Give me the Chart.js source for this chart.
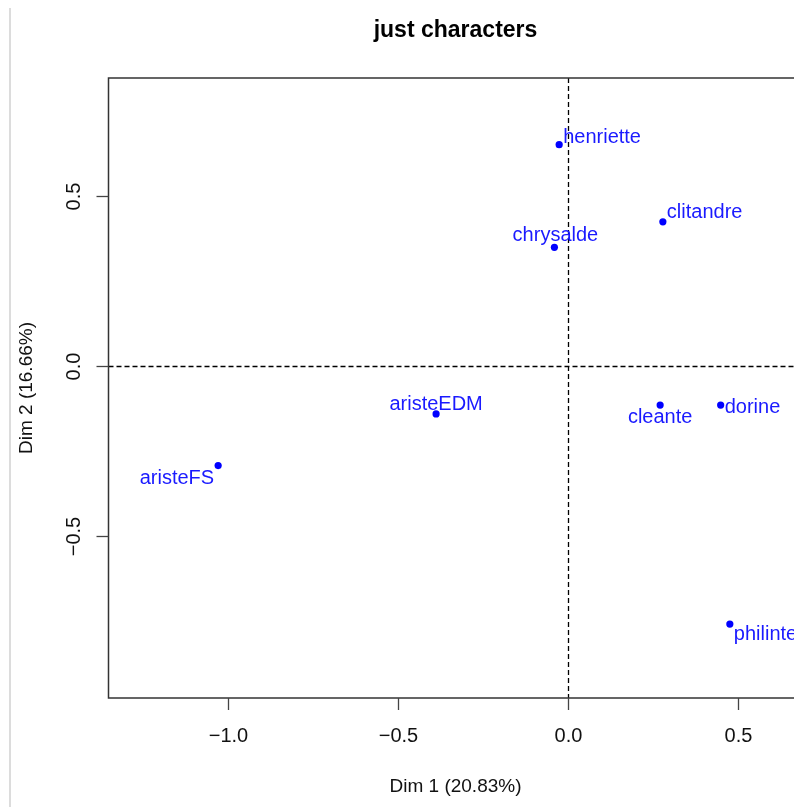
<html>
<head>
<script src="https://cdn.jsdelivr.net/npm/chart.js@4.4.1/dist/chart.umd.min.js"></script>
<style>
    body { margin: 0; background: #fff; }
    #wrap { position: relative; width: 794px; height: 807px; overflow: hidden; background: #fff; }
    #frame { position: absolute; left: 9px; top: 8px; width: 2px; height: 799px; background: #dcdcdc; }
    #holder { position: absolute; left: 0; top: 0; width: 840px; height: 807px; }
</style>
<script type="text/javascript">
    // individual factor map
    var names = ["henriette", "clitandre", "chrysalde", "aristeEDM", "aristeFS", "cleante", "dorine", "philinte"];
    var dim1 = [-0.026, 0.279, -0.040, -0.388, -1.029, 0.271, 0.449, 0.476];
    var dim2 = [0.651, 0.424, 0.349, -0.141, -0.293, -0.115, -0.115, -0.759];
    var xTicks = [-1.0, -0.5, 0.0, 0.5];
    var yTicks = [-0.5, 0.0, 0.5];

    // where each label sits next to its point: [align, dx, dy to baseline]
    var labelPlace = [
        ["left", 4, -2], ["left", 4, -4], ["center", 1, -6], ["center", 0, -4],
        ["right", -4, 18], ["center", 0, 18], ["left", 4, 8], ["left", 4, 16]
    ];

    var FONT = '"Liberation Sans", Arial, sans-serif';

    function fmt(v) {
        var s = v.toFixed(1);
        return v < 0 ? "\u2212" + s.slice(1) : s;
    }

    var rAxes = {
        id: "rAxes",
        beforeDatasetsDraw: function(chart) {
            var ctx = chart.ctx, a = chart.chartArea;
            var xs = chart.scales.x, ys = chart.scales.y;
            ctx.save();
            // dashed zero lines
            ctx.strokeStyle = "#000";
            ctx.lineWidth = 1.3;
            ctx.setLineDash([5, 3]);
            var x0 = Math.round(xs.getPixelForValue(0)) + 0.5;
            var y0 = Math.round(ys.getPixelForValue(0)) + 0.5;
            ctx.beginPath();
            ctx.moveTo(x0, a.top); ctx.lineTo(x0, a.bottom);
            ctx.moveTo(a.left, y0); ctx.lineTo(a.right, y0);
            ctx.stroke();
            ctx.restore();
        },
        afterDatasetsDraw: function(chart) {
            var ctx = chart.ctx, a = chart.chartArea;
            var xs = chart.scales.x, ys = chart.scales.y;
            ctx.save();
            // labels, clipped to the plot like R's text()
            ctx.save();
            ctx.beginPath();
            ctx.rect(a.left, a.top, a.right - a.left, a.bottom - a.top);
            ctx.clip();
            ctx.fillStyle = "#1a1aff";
            ctx.font = "20px " + FONT;
            ctx.textBaseline = "alphabetic";
            for (var i = 0; i < names.length; i++) {
                var px = xs.getPixelForValue(dim1[i]);
                var py = ys.getPixelForValue(dim2[i]);
                ctx.textAlign = labelPlace[i][0];
                ctx.fillText(names[i], px + labelPlace[i][1], py + labelPlace[i][2]);
            }
            ctx.restore();

            // box
            ctx.strokeStyle = "#333";
            ctx.lineWidth = 1.5;
            ctx.strokeRect(a.left, a.top, a.right - a.left, a.bottom - a.top);

            // ticks + tick labels
            ctx.fillStyle = "#111";
            ctx.font = "20px " + FONT;
            ctx.textAlign = "center";
            ctx.textBaseline = "alphabetic";
            ctx.lineWidth = 1.3;
            ctx.strokeStyle = "#444";
            xTicks.forEach(function(v) {
                var p = Math.round(xs.getPixelForValue(v)) + 0.5;
                ctx.beginPath();
                ctx.moveTo(p, a.bottom); ctx.lineTo(p, a.bottom + 12);
                ctx.stroke();
                ctx.fillText(fmt(v), p, a.bottom + 44);
            });
            yTicks.forEach(function(v) {
                var p = Math.round(ys.getPixelForValue(v)) + 0.5;
                ctx.beginPath();
                ctx.moveTo(a.left, p); ctx.lineTo(a.left - 12, p);
                ctx.stroke();
                ctx.save();
                ctx.translate(a.left - 29, p);
                ctx.rotate(-Math.PI / 2);
                ctx.fillText(fmt(v), 0, 0);
                ctx.restore();
            });

            // axis titles and main title
            var cx = (a.left + a.right) / 2, cy = (a.top + a.bottom) / 2;
            ctx.font = "19px " + FONT;
            ctx.fillText("Dim 1 (20.83%)", cx, 792);
            ctx.save();
            ctx.translate(32, cy);
            ctx.rotate(-Math.PI / 2);
            ctx.fillText("Dim 2 (16.66%)", 0, 0);
            ctx.restore();
            ctx.fillStyle = "#000";
            ctx.font = "bold 23px " + FONT;
            ctx.fillText("just characters", cx, 37);
            ctx.restore();
        }
    };

    window.onload = function() {
        var pts = [];
        for (var i = 0; i < names.length; i++) pts.push({ x: dim1[i], y: dim2[i] });
        var ctx = document.getElementById("map").getContext("2d");
        new Chart(ctx, {
            type: "scatter",
            data: {
                datasets: [{
                    label: "individuals",
                    data: pts,
                    pointRadius: 3.6,
                    pointHoverRadius: 3.6,
                    pointBackgroundColor: "#0000ff",
                    pointBorderWidth: 0
                }]
            },
            options: {
                responsive: false,
                animation: false,
                events: [],
                layout: { padding: { left: 108.5, top: 78, right: 840 - 802.5, bottom: 807 - 698 } },
                scales: {
                    x: { type: "linear", min: -1.3515, max: 0.6897, display: false },
                    y: { type: "linear", min: -0.9765, max: 0.847, display: false }
                },
                plugins: { legend: { display: false }, tooltip: { enabled: false } }
            },
            plugins: [rAxes]
        });
    };
</script>
</head>
<body>
<div id="wrap">
    <div id="holder"><canvas id="map" width="840" height="807"></canvas></div>
    <div id="frame"></div>
</div>
</body>
</html>
